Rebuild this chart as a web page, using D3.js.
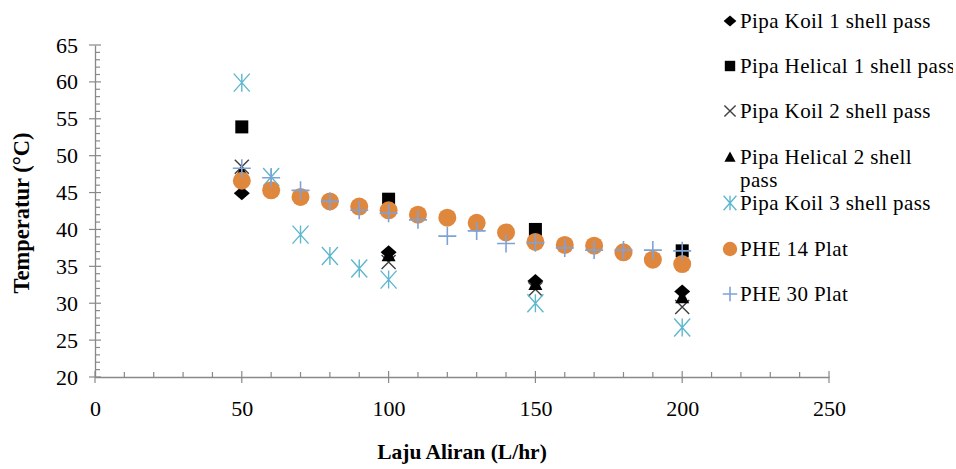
<!DOCTYPE html>
<html>
<head>
<meta charset="utf-8">
<script src="https://cdn.jsdelivr.net/npm/d3@7"></script>
<style>
  html, body { margin: 0; padding: 0; background: #fff; }
  svg { display: block; }
  text { font-family: "Liberation Serif", "Times New Roman", serif; fill: #000; }
</style>
</head>
<body>
<svg id="chart" width="956" height="469"></svg>
<script>
// Flow rate (L/hr) against outlet temperature (°C) for each exchanger configuration
const shellX = [50, 100, 150, 200];
const koil1Temp = [44.9, 36.9, 33.0, 31.6];
const helical1Temp = [53.9, 44.1, 40.0, 37.1];
const koil2Temp = [48.5, 35.6, 31.9, 29.5];
const helical2Temp = [47.8, 36.5, 32.6, 30.8];

const koil3X = [50, 60, 70, 80, 90, 100, 150, 200];
const koil3Temp = [59.9, 47.1, 39.3, 36.4, 34.7, 33.2, 30.0, 26.7];

const pheX = [50, 60, 70, 80, 90, 100, 110, 120, 130, 140, 150, 160, 170, 180, 190, 200];
const phe14Temp = [46.6, 45.3, 44.4, 43.8, 43.1, 42.6, 42.0, 41.6, 40.9, 39.6, 38.3, 37.9, 37.8, 36.9, 35.9, 35.3];
const phe30Temp = [48.3, 47.0, 45.3, 43.8, 42.6, 42.2, 41.3, 39.1, 39.8, 38.1, 38.2, 37.5, 37.2, 37.2, 37.2, 37.1];

const seriesNames = [
  "Pipa Koil 1 shell pass",
  "Pipa Helical 1 shell pass",
  "Pipa Koil 2 shell pass",
  "Pipa Helical 2 shell pass",
  "Pipa Koil 3 shell pass",
  "PHE 14 Plat",
  "PHE 30 Plat"
];
const xTicks = [0, 50, 100, 150, 200, 250];
const yTicks = [20, 25, 30, 35, 40, 45, 50, 55, 60, 65];
const xTitle = "Laju Aliran (L/hr)";
const yTitle = "Temperatur (°C)";

const svg = d3.select("#chart");
const axisColor = "#898989";

const x = d3.scaleLinear().domain([0, 250]).range([95, 829]);
const y = d3.scaleLinear().domain([20, 65]).range([377, 45]);

// ---- marker shapes ----
const markers = {
  diamond: (g, s) => g.append("path").attr("d", "M0,-7L8,0L0,7L-8,0Z").attr("fill", "#000").attr("transform", `scale(${s})`),
  square: (g, s) => g.append("rect").attr("x", -6.5 * s).attr("y", -6.5 * s).attr("width", 13 * s).attr("height", 13 * s).attr("fill", "#000"),
  cross: (g, s) => g.append("path").attr("d", "M-7,-7L7,7M-7,7L7,-7").attr("stroke", "#3f3f3f").attr("stroke-width", 1.4 / s).attr("fill", "none").attr("transform", `scale(${s})`),
  triangle: (g, s) => g.append("path").attr("d", "M0,-7L7,6L-7,6Z").attr("fill", "#000").attr("transform", `scale(${s})`),
  star: (g, s) => g.append("path").attr("d", "M-8,-9L8,9M-8,9L8,-9M0,-9L0,9").attr("stroke", "#5fb7cd").attr("stroke-width", 1.4 / s).attr("fill", "none").attr("transform", `scale(${s})`),
  circle: (g, s) => g.append("circle").attr("r", 9 * s).attr("fill", "#e0873e"),
  plus: (g, s) => g.append("path").attr("d", "M-9,0L9,0M0,-9L0,9").attr("stroke", "#7fa2d6").attr("stroke-width", 1.6 / s).attr("fill", "none").attr("transform", `scale(${s})`)
};

const series = [
  { name: seriesNames[0], xs: shellX, ys: koil1Temp, marker: "diamond" },
  { name: seriesNames[1], xs: shellX, ys: helical1Temp, marker: "square" },
  { name: seriesNames[2], xs: shellX, ys: koil2Temp, marker: "cross" },
  { name: seriesNames[3], xs: shellX, ys: helical2Temp, marker: "triangle" },
  { name: seriesNames[4], xs: koil3X, ys: koil3Temp, marker: "star" },
  { name: seriesNames[5], xs: pheX, ys: phe14Temp, marker: "circle" },
  { name: seriesNames[6], xs: pheX, ys: phe30Temp, marker: "plus" }
];

// ---- axes ----
const yAxisG = svg.append("g").attr("transform", `translate(${x(0)},0)`)
  .call(d3.axisLeft(y).tickValues(yTicks).tickSize(0).tickPadding(17).tickFormat(d3.format("d")));
yAxisG.select(".domain").attr("stroke", axisColor).attr("stroke-width", 1.3);
yAxisG.selectAll(".tick text").attr("font-size", 22).attr("font-family", "Liberation Serif").attr("fill", "#000");

const xAxisG = svg.append("g").attr("transform", `translate(0,${y(20)})`)
  .call(d3.axisBottom(x).tickValues(xTicks).tickSize(0).tickPadding(23).tickFormat(d3.format("d")));
xAxisG.select(".domain").attr("stroke", axisColor).attr("stroke-width", 1.3);
xAxisG.selectAll(".tick text").attr("font-size", 22).attr("font-family", "Liberation Serif").attr("fill", "#000");

// minor ticks
const ticksG = svg.append("g").attr("stroke", axisColor).attr("stroke-width", 1.2);
d3.range(21, 65).filter(v => v % 5 !== 0).forEach(v => {
  ticksG.append("line").attr("x1", x(0)).attr("x2", x(0) + 5).attr("y1", y(v)).attr("y2", y(v));
});
yTicks.forEach(v => {
  ticksG.append("line").attr("x1", x(0) - 6).attr("x2", x(0) + 6).attr("y1", y(v)).attr("y2", y(v));
});
d3.range(10, 250, 10).filter(v => v % 50 !== 0).forEach(v => {
  ticksG.append("line").attr("x1", x(v)).attr("x2", x(v)).attr("y1", y(20)).attr("y2", y(20) - 5);
});
xTicks.forEach(v => {
  ticksG.append("line").attr("x1", x(v)).attr("x2", x(v)).attr("y1", y(20) - 6).attr("y2", y(20) + 6);
});

// ---- titles ----
svg.append("text")
  .attr("x", (x(0) + x(250)) / 2).attr("y", 459)
  .attr("text-anchor", "middle").attr("font-weight", "bold").attr("font-size", 21.5)
  .text(xTitle);
svg.append("text")
  .attr("transform", `translate(29,${(y(20) + y(65)) / 2 + 2}) rotate(-90)`)
  .attr("text-anchor", "middle").attr("font-weight", "bold").attr("font-size", 22.5)
  .text(yTitle);

// ---- points ----
const plot = svg.append("g");
series.forEach(s => {
  s.xs.forEach((xv, i) => {
    const g = plot.append("g").attr("transform", `translate(${x(xv)},${y(s.ys[i])})`);
    markers[s.marker](g, 1);
  });
});

// ---- legend ----
svg.append("clipPath").attr("id", "legend-clip")
  .append("rect").attr("x", 700).attr("y", 0).attr("width", 253).attr("height", 469);
const legend = svg.append("g").attr("clip-path", "url(#legend-clip)");
const rowY = [21, 66, 111, 157, 203, 249, 294];
series.forEach((s, i) => {
  const g = legend.append("g").attr("transform", `translate(730,${rowY[i]})`);
  markers[s.marker](g, 0.8);
  const t = g.append("text").attr("x", 10).attr("y", 7).attr("font-size", 21).attr("letter-spacing", 0.4);
  if (i === 3) {
    t.text("Pipa Helical 2 shell");
    g.append("text").attr("x", 10).attr("y", 30).attr("font-size", 21).attr("letter-spacing", 0.4).text("pass");
  } else {
    t.text(s.name);
  }
});
</script>
</body>
</html>
